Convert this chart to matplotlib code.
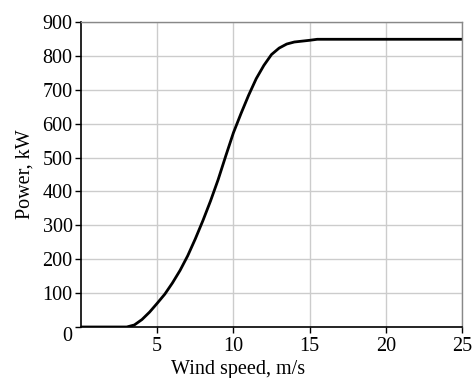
import matplotlib
matplotlib.use("Agg")
import matplotlib.pyplot as plt
import matplotlib.transforms as mtransforms

wind_speed = [0, 1, 2, 3, 3.5, 4, 4.5, 5, 5.5, 6, 6.5, 7, 7.5, 8, 8.5, 9, 9.5, 10,
              10.5, 11, 11.5, 12, 12.5, 13, 13.5, 14, 15, 15.5, 16, 17, 18, 19, 20,
              21, 22, 23, 24, 25]
power_kw = [0, 0, 0, 0, 6, 22, 44, 70, 97, 130, 167, 210, 260, 314, 372, 435, 505, 573,
            630, 684, 733, 772, 804, 823, 835, 841, 846, 849, 849, 849, 849, 849, 849,
            849, 849, 849, 849, 849]

x_ticks = [5, 10, 15, 20, 25]
y_ticks = [0, 100, 200, 300, 400, 500, 600, 700, 800, 900]

plt.rcParams['font.family'] = ['Liberation Serif', 'DejaVu Serif']

fig = plt.figure(figsize=(4.72, 3.78), dpi=100)
ax = fig.add_axes([81/472, 1-327/378, (462-81)/472, (327-22)/378])

ax.plot(wind_speed, power_kw, color='black', lw=2.0, solid_joinstyle='round')

ax.set_xlim(0, 25)
ax.set_ylim(0, 900)
ax.set_xticks(x_ticks)
ax.set_yticks(y_ticks)
ax.grid(True, color='#cccccc', lw=1.0)
ax.set_axisbelow(True)

for s in ['left', 'bottom']:
    ax.spines[s].set_color('black')
    ax.spines[s].set_linewidth(1.2)
for s in ['top', 'right']:
    ax.spines[s].set_color('#888888')
    ax.spines[s].set_linewidth(1.0)

ax.tick_params(axis='both', direction='out', length=4, width=1, labelsize=14.5, colors='black')
ax.tick_params(axis='y', pad=2)
ax.tick_params(axis='x', pad=3)

fig.canvas.draw()
for lab in ax.get_yticklabels():
    if lab.get_text() == '0':
        lab.set_transform(lab.get_transform() + mtransforms.ScaledTranslation(0, -7/100, fig.dpi_scale_trans))

ax.set_ylabel('Power, kW', fontsize=14.5, labelpad=6)
ax.set_xlabel('Wind speed, m/s', fontsize=14.5)
ax.xaxis.set_label_coords(0.413, -0.108)

fig.savefig('out.png', dpi=100)
